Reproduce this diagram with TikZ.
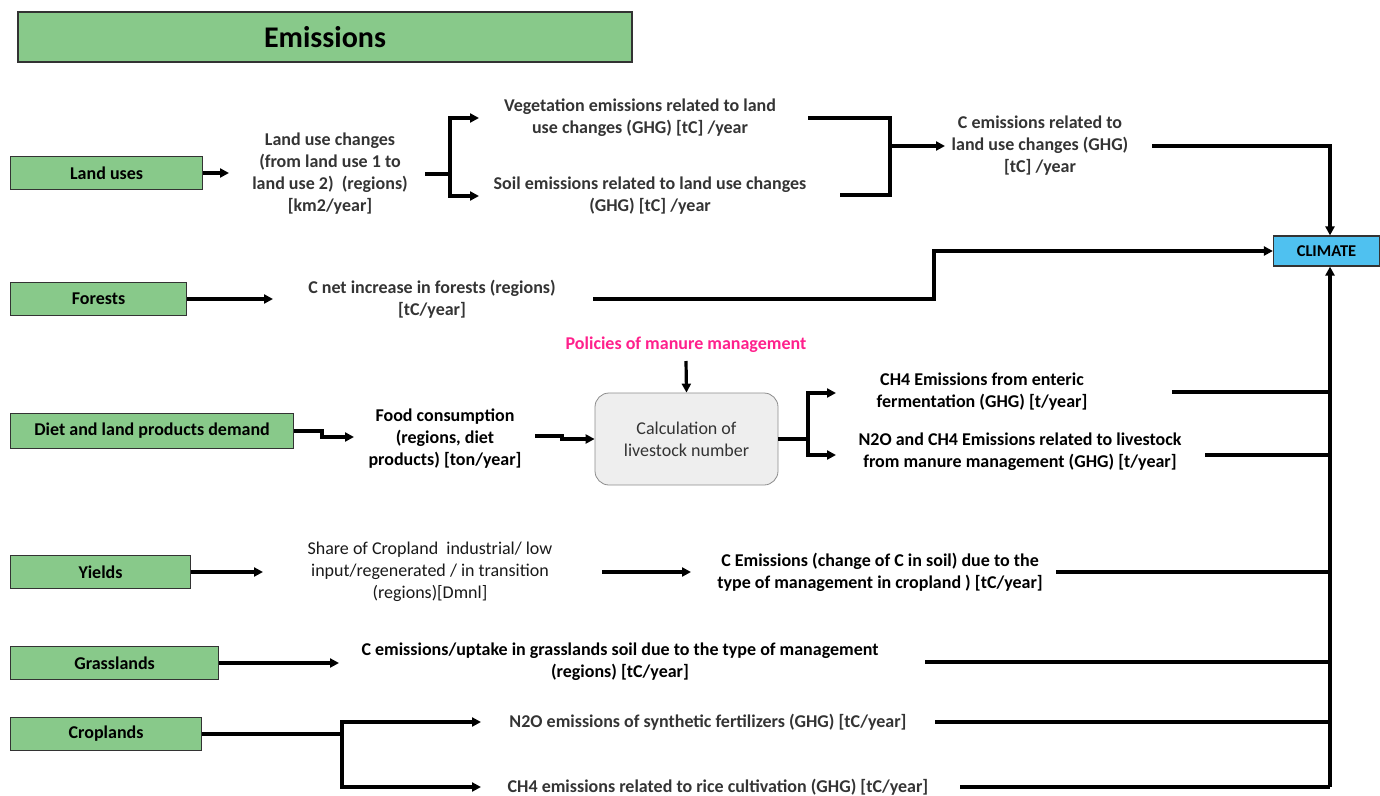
\documentclass[tikz,border=0pt]{standalone}
\usepackage{fontspec}
\setmainfont{Carlito}
\usetikzlibrary{arrows.meta}
\definecolor{boxgreen}{RGB}{136,201,138}
\definecolor{climblue}{RGB}{79,193,240}
\definecolor{calcgray}{RGB}{238,238,238}
\definecolor{txtgray}{RGB}{52,52,52}
\definecolor{polpink}{RGB}{255,32,140}
\tikzset{
  greenbox/.style={draw=black!80, line width=1.2pt, fill=boxgreen, anchor=west,
    minimum height=33pt, inner sep=0pt, font=\fontsize{18}{20}\selectfont\bfseries},
  label/.style={align=center, inner sep=0pt, font=\fontsize{18}{22}\selectfont\bfseries, text=txtgray},
  labelblack/.style={label, text=black},
  labellight/.style={label, font=\fontsize{18}{22}\selectfont, text=black!90},
  conn/.style={line width=3.2pt, line join=miter},
  arr/.style={conn, -{Triangle[length=9pt,width=9pt]}},
}
\begin{document}
\begin{tikzpicture}[x=1pt,y=-1pt]
\useasboundingbox (0,0) rectangle (1380,795);

% title bar
\node[draw=black!80, line width=1.2pt, fill=boxgreen, minimum width=614pt, minimum height=50pt,
      inner sep=0pt, font=\fontsize{30}{34}\selectfont\bfseries] (title) at (325,37) {Emissions};

% source boxes
\node[greenbox, minimum width=192pt] (landuses) at (10,173) {Land uses};
\node[greenbox, minimum width=176pt] (forests) at (10,299) {Forests};
\node[greenbox, minimum width=283pt, minimum height=35pt] (diet) at (10,431) {Diet and land products demand};
\node[greenbox, minimum width=180pt] (yields) at (10,572) {Yields};
\node[greenbox, minimum width=208pt] (grass) at (10,663) {Grasslands};
\node[greenbox, minimum width=191pt] (crop) at (10,734) {Croplands};

% climate sink
\node[draw=black!80, line width=1.2pt, fill=climblue, minimum width=106pt, minimum height=30pt,
      inner sep=0pt, font=\fontsize{16.5}{18}\selectfont\bfseries] (climate) at (1326.5,251) {CLIMATE};

% livestock calculation
\node[draw=black!45, line width=0.8pt, fill=calcgray, rounded corners=14pt, minimum width=183pt,
      minimum height=92pt, inner sep=0pt, align=center, text=black!80,
      font=\fontsize{18}{22}\selectfont] (calc) at (686.5,439) {Calculation of\\livestock number};
\node[label, text=polpink] (policy) at (686,345) {Policies of manure management};

% variables
\node[label] (luc) at (330,174) {Land use changes\\(from land use 1 to\\land use 2)~~(regions)\\{}[km2/year]};
\node[label] (veg) at (640,118) {Vegetation emissions related to land\\use changes (GHG) [tC] /year};
\node[label] (soil) at (650,196) {Soil emissions related to land use changes\\(GHG) [tC] /year};
\node[label] (cemis) at (1040,146) {C emissions related to\\land use changes (GHG)\\{}[tC] /year};
\node[label] (cnet) at (432,299) {C net increase in forests (regions)\\{}[tC/year]};
\node[labelblack] (food) at (445,439) {Food consumption\\(regions, diet\\products) [ton/year]};
\node[labelblack] (ch4ent) at (982,392) {CH4 Emissions from enteric\\fermentation (GHG) [t/year]};
\node[labelblack] (n2o) at (1020,452) {N2O and CH4 Emissions related to livestock\\from manure management (GHG) [t/year]};
\node[labellight] (share) at (430,572) {Share of Cropland~~industrial/ low\\input/regenerated / in transition\\(regions)[Dmnl]};
\node[labelblack] (csoil) at (880,572) {C Emissions (change of C in soil) due to the\\type of management in cropland ) [tC/year]};
\node[labelblack] (cgrass) at (620,662) {C emissions/uptake in grasslands soil due to the type of management\\(regions) [tC/year]};
\node[label] (n2osyn) at (708,722) {N2O emissions of synthetic fertilizers (GHG) [tC/year]};
\node[label] (ch4rice) at (718,787) {CH4 emissions related to rice cultivation (GHG) [tC/year]};

% junctions and connector ends
\coordinate (lucin) at (229,173);
\coordinate (lucout) at (425,174);
\coordinate (j1) at (450,174);
\coordinate (vegin) at (479,118);
\coordinate (soilin) at (479,196);
\coordinate (vegout) at (808,118);
\coordinate (soilout) at (840,195);
\coordinate (j2) at (890,146);
\coordinate (cemin) at (945,146);
\coordinate (cemout) at (1152,146);
\coordinate (cnetin) at (273,299);
\coordinate (cnetout) at (593,299);
\coordinate (fkink) at (934,299);
\coordinate (dietstep) at (322,431);
\coordinate (foodin) at (354,437);
\coordinate (foodout) at (535,436);
\coordinate (foodstep) at (562,436);
\coordinate (poltail) at (686,361);
\coordinate (j3) at (808,439);
\coordinate (entin) at (836,393);
\coordinate (n2oin) at (836,455);
\coordinate (entout) at (1172,392);
\coordinate (n2oout) at (1205,455);
\coordinate (sharein) at (263,572);
\coordinate (shareout) at (602,572);
\coordinate (csoilin) at (691,572);
\coordinate (csoilout) at (1056,572);
\coordinate (grassin) at (339,663);
\coordinate (grassout) at (925,662);
\coordinate (j4) at (342,734);
\coordinate (synin) at (481,722);
\coordinate (ricein) at (481,787);
\coordinate (synout) at (935,722);
\coordinate (riceout) at (960,787);
\coordinate (busbot) at (1330,787);

% land use branch
\draw[arr] (landuses.east) -- (lucin);
\draw[conn] (lucout) -- (j1);
\draw[arr] (j1) |- (vegin);
\draw[arr] (j1) |- (soilin);
\draw[conn] (vegout) -| (j2);
\draw[conn] (soilout) -| (j2);
\draw[arr] (j2) -- (cemin);
\draw[arr] (cemout) -| ([xshift=3.5pt]climate.north);

% forests
\draw[arr] (forests.east) -- (cnetin);
\draw[arr] (cnetout) -- (fkink) |- (climate.west);

% livestock
\draw[arr] (diet.east) -- (dietstep) |- (foodin);
\draw[arr] (foodout) -- (foodstep) |- (calc.west);
\draw[arr] (poltail) -- (calc.north);
\draw[conn] (calc.east) -- (j3);
\draw[arr] (j3) |- (entin);
\draw[arr] (j3) |- (n2oin);

% cropland management
\draw[arr] (yields.east) -- (sharein);
\draw[arr] (shareout) -- (csoilin);
\draw[arr] (grass.east) -- (grassin);
\draw[conn] (crop.east) -- (j4);
\draw[arr] (j4) |- (synin);
\draw[arr] (j4) |- (ricein);

% collecting bus to climate
\draw[arr] (busbot) -- ([xshift=3.5pt]climate.south);
\draw[conn] (entout) -- (entout -| busbot);
\draw[conn] (n2oout) -- (n2oout -| busbot);
\draw[conn] (csoilout) -- (csoilout -| busbot);
\draw[conn] (grassout) -- (grassout -| busbot);
\draw[conn] (synout) -- (synout -| busbot);
\draw[conn] (riceout) -- (busbot);
\end{tikzpicture}
\end{document}
